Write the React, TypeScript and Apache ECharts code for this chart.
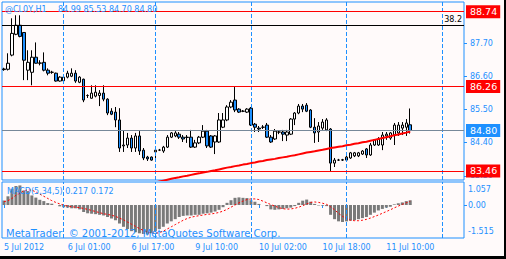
import React, { useEffect, useRef } from 'react';
import * as echarts from 'echarts';

const N_SLOTS = 116;
const OPEN = [86.82, 86.83, 87.30, 87.99, 88.29, 88.05, 86.80, 86.73, 87.23, 87.03,
  87.06, 86.80, 86.73, 86.70, 86.44, 86.45, 86.57, 86.60, 86.70, 86.40,
  86.50, 85.96, 85.87, 85.94, 85.96, 86.04, 85.84, 85.44, 85.41, 85.15,
  84.29, 84.32, 84.55, 84.22, 84.62, 84.15, 83.92, 83.92, 84.09, 84.15,
  84.12, 84.25, 84.58, 84.62, 84.68, 84.58, 84.58, 84.58, 84.25, 84.39,
  84.58, 84.78, 84.62, 84.42, 84.42, 84.91, 85.15, 85.58, 85.81, 85.51,
  85.44, 85.41, 85.54, 85.01, 84.88, 84.91, 84.98, 84.58, 84.52, 84.75,
  84.75, 84.65, 84.68, 85.18, 85.38, 85.61, 85.64, 85.48, 84.91, 84.75,
  84.88, 84.82, 84.85, 83.72, 83.82, 83.82, 83.82, 83.89, 83.96, 83.96,
  84.02, 84.19, 83.99, 84.32, 84.32, 84.32, 84.62, 84.55, 84.65, 84.72,
  84.88, 84.91, 84.99];
const HIGH = [86.88, 87.36, 88.52, 88.62, 88.62, 88.06, 87.46, 87.46, 87.72, 87.13,
  87.39, 86.86, 86.78, 86.72, 86.60, 86.58, 86.78, 86.86, 86.80, 86.60,
  86.52, 86.00, 86.30, 86.30, 86.14, 86.30, 85.87, 85.54, 85.58, 85.54,
  84.81, 84.72, 84.65, 84.72, 84.78, 84.22, 83.96, 83.94, 84.22, 84.19,
  84.29, 84.65, 84.75, 84.78, 84.75, 84.65, 84.65, 84.82, 84.49, 84.62,
  84.98, 84.82, 84.65, 84.65, 85.38, 85.38, 85.64, 85.81, 86.24, 85.54,
  85.48, 85.54, 85.58, 85.05, 84.95, 84.98, 85.05, 84.65, 84.85, 84.80,
  84.82, 84.82, 85.21, 85.41, 85.68, 85.68, 85.71, 85.51, 85.21, 85.08,
  85.18, 85.21, 84.88, 83.89, 83.86, 83.86, 83.96, 84.09, 84.09, 84.09,
  84.15, 84.22, 84.39, 84.52, 84.58, 84.75, 84.75, 84.75, 85.05, 85.08,
  85.08, 85.18, 85.53];
const LOW = [86.78, 86.79, 87.26, 87.96, 87.89, 86.47, 86.47, 86.30, 87.02, 86.96,
  86.76, 86.63, 86.68, 86.42, 86.42, 86.43, 86.53, 86.57, 86.38, 86.37,
  85.74, 85.88, 85.86, 85.90, 85.61, 85.77, 85.31, 85.31, 84.91, 84.09,
  84.09, 84.22, 84.09, 84.09, 83.99, 83.82, 83.79, 83.80, 83.79, 84.12,
  84.06, 84.22, 84.55, 84.58, 84.52, 84.42, 84.39, 84.22, 84.22, 84.35,
  84.55, 84.22, 84.22, 84.02, 84.39, 84.88, 85.11, 85.54, 85.41, 85.38,
  85.41, 85.38, 84.95, 84.75, 84.75, 84.85, 84.55, 84.39, 84.49, 84.68,
  84.45, 84.45, 84.65, 84.98, 85.34, 85.41, 85.41, 84.88, 84.39, 84.42,
  84.82, 84.78, 83.46, 83.59, 83.79, 83.79, 83.79, 83.86, 83.92, 83.92,
  83.99, 83.89, 83.96, 84.29, 84.29, 84.15, 84.49, 84.49, 84.32, 84.62,
  84.65, 84.62, 84.70];
const CLOSE = [86.84, 87.03, 88.02, 88.29, 87.92, 87.13, 87.06, 87.23, 87.03, 87.04,
  86.80, 86.70, 86.73, 86.44, 86.57, 86.57, 86.70, 86.70, 86.44, 86.57,
  85.81, 85.96, 86.04, 86.07, 86.04, 85.84, 85.38, 85.34, 85.15, 84.22,
  84.32, 84.55, 84.22, 84.62, 84.12, 83.89, 83.86, 83.82, 84.15, 84.15,
  84.25, 84.58, 84.72, 84.72, 84.58, 84.52, 84.57, 84.25, 84.39, 84.58,
  84.78, 84.29, 84.25, 84.62, 85.15, 85.15, 85.58, 85.74, 85.48, 85.41,
  85.44, 85.51, 84.98, 84.91, 84.85, 84.91, 84.58, 84.42, 84.78, 84.75,
  84.68, 84.75, 85.18, 85.38, 85.61, 85.51, 85.44, 84.91, 84.72, 84.95,
  85.08, 85.15, 83.72, 83.82, 83.82, 83.83, 83.92, 84.06, 84.06, 84.06,
  84.12, 83.99, 84.32, 84.49, 84.52, 84.65, 84.68, 84.72, 84.98, 84.98,
  84.98, 85.05, 84.80];

const MA_START = 38;
const MA = [83.08, 83.11, 83.14, 83.17, 83.20, 83.23, 83.25, 83.28, 83.30, 83.33,
  83.36, 83.38, 83.41, 83.43, 83.46, 83.48, 83.51, 83.54, 83.57, 83.59,
  83.62, 83.64, 83.67, 83.69, 83.72, 83.74, 83.77, 83.79, 83.82, 83.84,
  83.86, 83.89, 83.91, 83.93, 83.96, 83.98, 84.01, 84.04, 84.07, 84.09,
  84.11, 84.14, 84.16, 84.19, 84.22, 84.24, 84.26, 84.28, 84.31, 84.33,
  84.36, 84.38, 84.41, 84.43, 84.46, 84.49, 84.52, 84.55, 84.58, 84.61,
  84.64, 84.67, 84.70, 84.73, 84.77];

const MACD = [0.21, 0.40, 0.75, 0.87, 0.90, 0.67, 0.64, 0.44, 0.34, 0.24,
  0.18, 0.09, 0.06, 0.00, -0.06, -0.10, -0.12, -0.15, -0.15, -0.20,
  -0.32, -0.38, -0.40, -0.42, -0.45, -0.48, -0.55, -0.62, -0.70, -0.85,
  -1.00, -1.10, -1.20, -1.25, -1.30, -1.33, -1.35, -1.30, -1.20, -1.10,
  -1.00, -0.85, -0.75, -0.65, -0.55, -0.50, -0.48, -0.48, -0.45, -0.45,
  -0.40, -0.38, -0.35, -0.30, -0.22, -0.10, 0.10, 0.22, 0.33, 0.35,
  0.33, 0.32, 0.22, 0.15, 0.05, 0.00, -0.05, -0.20, -0.22, -0.20,
  -0.18, -0.15, -0.12, -0.05, 0.10, 0.20, 0.25, 0.15, 0.05, -0.02,
  -0.03, -0.05, -0.45, -0.65, -0.75, -0.78, -0.75, -0.72, -0.70, -0.65,
  -0.60, -0.55, -0.45, -0.35, -0.25, -0.18, -0.12, -0.08, 0.03, 0.08,
  0.12, 0.18, 0.217];
const SIGNAL = [0.15, 0.20, 0.30, 0.45, 0.55, 0.65, 0.70, 0.68, 0.60, 0.50,
  0.40, 0.30, 0.20, 0.12, 0.05, 0.00, -0.05, -0.08, -0.10, -0.12,
  -0.16, -0.20, -0.25, -0.30, -0.35, -0.40, -0.43, -0.47, -0.52, -0.60,
  -0.68, -0.78, -0.88, -0.98, -1.08, -1.17, -1.24, -1.28, -1.30, -1.27,
  -1.20, -1.10, -1.00, -0.90, -0.80, -0.70, -0.62, -0.56, -0.52, -0.49,
  -0.46, -0.43, -0.41, -0.38, -0.34, -0.28, -0.20, -0.10, 0.00, 0.10,
  0.18, 0.25, 0.28, 0.28, 0.25, 0.18, 0.10, 0.02, -0.05, -0.12,
  -0.17, -0.19, -0.18, -0.15, -0.10, -0.03, 0.05, 0.12, 0.14, 0.12,
  0.08, 0.03, -0.08, -0.22, -0.38, -0.52, -0.62, -0.70, -0.72, -0.72,
  -0.70, -0.66, -0.60, -0.53, -0.46, -0.38, -0.30, -0.22, -0.13, -0.05,
  0.03, 0.10, 0.172];

const PRICE_TICKS = [83.30, 84.40, 85.50, 86.60, 87.70];
const MACD_MIN = -1.515;
const MACD_MAX = 1.057;
const MACD_TICKS = [MACD_MIN, 0, MACD_MAX];
const TIME_LABEL_INDEX = [0, 16, 32, 48, 64, 80, 96];
const TIME_LABELS = ['5 Jul 2012', '6 Jul 01:00', '6 Jul 17:00', '9 Jul 10:00', '10 Jul 02:00', '10 Jul 18:00', '11 Jul 10:00'];
const DAY_SEPARATORS = [15, 38, 62, 86, 110];
const RED_LEVELS = [88.74, 86.26, 83.46];
const BID_LEVEL = 84.80;
const FIB_LEVEL = 88.28;
const FIB_LABEL = '38.2';
const SYMBOL_TEXT = '@CL0Y,H1';
const OHLC_TEXT = '84.99 85.53 84.70 84.80';
const MACD_TEXT = 'MACD(5,34,5) 0.217 0.172';
const COPYRIGHT = 'MetaTrader  \u00a9 2001-2012, MetaQuotes Software Corp.';

const BLUE = '#1E90FF';
const FF = 'DejaVu Sans';

export default function App() {
  const ref = useRef<HTMLDivElement>(null);
  useEffect(() => {
    if (!ref.current) return;
    const chart = echarts.init(ref.current, undefined, { renderer: 'svg' });
    const cats = Array.from({ length: N_SLOTS }, (_, i) => String(i));
    const candles = OPEN.map((o, i) => [o, CLOSE[i], LOW[i], HIGH[i]]);
    const ma = cats.map((_, i) => (i >= MA_START && i - MA_START < MA.length ? MA[i - MA_START] : '-'));
    const isLabelIdx = (i: number) => TIME_LABEL_INDEX.includes(i);
    const boxLabel = (v: number, bg: string) => ({
      show: true, position: 'end', distance: 2, formatter: v.toFixed(2), color: '#FFFFFF',
      backgroundColor: bg, padding: [2, 3, 1, 4], fontSize: 9.5, fontFamily: FF,
    });
    const sepLines = DAY_SEPARATORS.map((i) => ({ xAxis: i }));
    const macdLabelStyle = { color: BLUE, fontSize: 8, fontFamily: FF };
    const option: any = {
      animation: false,
      backgroundColor: '#FFFAFA',
      textStyle: { fontFamily: FF },
      grid: [
        { left: 2, top: 2, width: 462, height: 178, show: true, borderColor: BLUE, borderWidth: 1, backgroundColor: 'transparent' },
        { left: 2, top: 182, width: 462, height: 56, show: true, borderColor: BLUE, borderWidth: 1, backgroundColor: 'transparent' },
      ],
      xAxis: [
        { type: 'category', gridIndex: 0, data: cats, boundaryGap: true, show: false },
        {
          type: 'category', gridIndex: 1, data: cats, boundaryGap: true,
          axisLine: { show: false },
          axisTick: { show: true, alignWithLabel: true, interval: (i: number) => isLabelIdx(i), length: 3, lineStyle: { color: BLUE } },
          axisLabel: {
            interval: (i: number) => isLabelIdx(i),
            formatter: (v: string) => TIME_LABELS[TIME_LABEL_INDEX.indexOf(Number(v))] || '',
            align: 'left', color: BLUE, fontSize: 8, fontFamily: FF, margin: 5,
          },
          splitLine: { show: false },
        },
      ],
      yAxis: [
        {
          type: 'value', gridIndex: 0, position: 'right', min: 83.16, max: 89.06, scale: true,
          axisLine: { show: false }, splitLine: { show: false },
          axisTick: { show: true, length: 3, customValues: PRICE_TICKS, lineStyle: { color: BLUE } },
          axisLabel: { customValues: PRICE_TICKS, formatter: (v: number) => v.toFixed(2), color: BLUE, fontSize: 8, fontFamily: FF, margin: 6 },
        },
        {
          type: 'value', gridIndex: 1, position: 'right', min: MACD_MIN, max: MACD_MAX,
          axisLine: { show: false }, splitLine: { show: false },
          axisTick: { show: true, length: 3, customValues: [0], lineStyle: { color: BLUE } },
          axisLabel: {
            customValues: MACD_TICKS,
            showMinLabel: true, showMaxLabel: true, hideOverlap: false,
            formatter: (v: number) => {
              if (Math.abs(v - MACD_MAX) < 1e-6) return '{hi|' + v.toFixed(3) + '}';
              if (Math.abs(v - MACD_MIN) < 1e-6) return '{lo|' + v.toFixed(3) + '}';
              return '{mid|0.00}';
            },
            margin: 4,
            rich: {
              hi: { ...macdLabelStyle, padding: [14, 0, 0, 0] },
              lo: { ...macdLabelStyle, padding: [0, 0, 14, 0] },
              mid: { ...macdLabelStyle },
            },
          },
        },
      ],
      graphic: [
        { type: 'text', z: 20, x: 5, y: 9, style: { text: SYMBOL_TEXT, fill: BLUE, font: `8px "${FF}"`, verticalAlign: 'middle' } },
        { type: 'text', z: 20, x: 58, y: 9, style: { text: OHLC_TEXT, fill: BLUE, font: `8px "${FF}"`, verticalAlign: 'middle' } },
        { type: 'text', z: 20, x: 7, y: 191.5, style: { text: MACD_TEXT, fill: BLUE, font: `8px "${FF}"`, verticalAlign: 'middle' } },
        { type: 'text', z: 20, x: 6, y: 233.5, style: { text: COPYRIGHT, fill: BLUE, font: `10px "${FF}"`, verticalAlign: 'middle' } },
      ],
      series: [
        {
          type: 'line', xAxisIndex: 0, yAxisIndex: 0, data: cats.map(() => '-'), z: 1, silent: true,
          markLine: {
            silent: true, symbol: ['none', 'none'], label: { show: false },
            lineStyle: { color: BLUE, type: [4, 2], width: 1 }, data: sepLines,
          },
        },
        {
          type: 'candlestick', xAxisIndex: 0, yAxisIndex: 0, data: candles, barWidth: 3, z: 2,
          itemStyle: { color: '#FFFFFF', color0: BLUE, borderColor: '#000000', borderColor0: '#000000', borderWidth: 1 },
          markLine: {
            silent: true, symbol: ['none', 'none'],
            data: [
              ...RED_LEVELS.map((v) => ({ yAxis: v, lineStyle: { color: '#FF0000', type: 'solid', width: 1 }, label: boxLabel(v, '#FF0000') })),
              { yAxis: BID_LEVEL, lineStyle: { color: '#778899', type: 'solid', width: 1 }, label: boxLabel(BID_LEVEL, BLUE) },
              {
                yAxis: FIB_LEVEL, lineStyle: { color: '#000000', type: 'solid', width: 1 },
                label: { show: true, position: 'insideEndTop', distance: 2, formatter: FIB_LABEL, color: '#000000', fontSize: 8, fontFamily: FF },
              },
            ],
          },
        },
        {
          type: 'line', xAxisIndex: 0, yAxisIndex: 0, data: ma, symbol: 'none', z: 3, silent: true,
          lineStyle: { color: '#FF0000', width: 2 },
        },
        {
          type: 'bar', xAxisIndex: 1, yAxisIndex: 1, data: MACD, barWidth: 3, z: 2, silent: true,
          itemStyle: { color: '#7A7A7A' },
          markLine: {
            silent: true, symbol: ['none', 'none'], label: { show: false },
            lineStyle: { color: BLUE, type: [4, 2], width: 1 }, data: sepLines,
          },
        },
        {
          type: 'line', xAxisIndex: 1, yAxisIndex: 1, data: SIGNAL, symbol: 'none', z: 3, silent: true,
          lineStyle: { color: '#FF0000', width: 1, type: [2, 2] },
        },
      ],
    };
    chart.setOption(option);
    return () => chart.dispose();
  }, []);
  return (
    <div style={{ position: 'fixed', left: 0, top: 0, width: 506, height: 259, background: '#000000' }}>
      <div ref={ref} style={{ width: 504, height: 256 }} />
    </div>
  );
}
